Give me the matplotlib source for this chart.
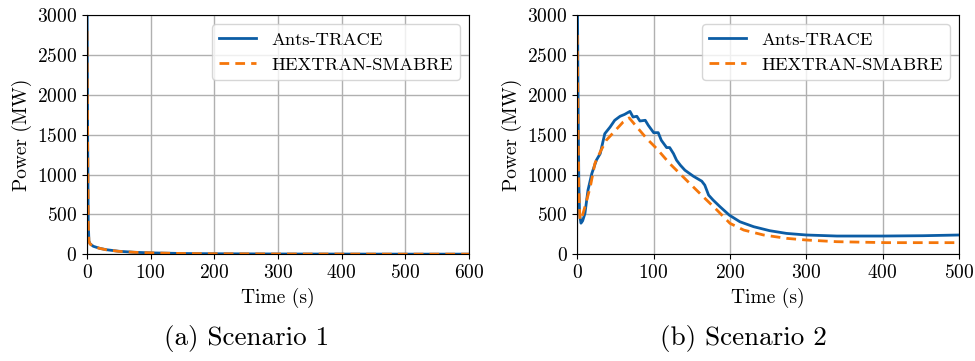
import matplotlib
matplotlib.use("Agg")
import matplotlib.pyplot as plt

plt.rcParams['font.family'] = ['cmr10', 'DejaVu Serif']
plt.rcParams['mathtext.fontset'] = 'cm'
plt.rcParams['axes.formatter.use_mathtext'] = True
plt.rcParams['axes.unicode_minus'] = False

# Scenario 1
t1 = [0, 1, 2, 3, 5, 10, 20, 30, 50, 75, 100, 150, 200, 300, 400, 500, 600]
ants1 = [3400, 1500, 400, 165, 130, 100, 75, 58, 38, 25, 18, 10, 7, 4, 3, 2, 2]
hex1 = [2800, 1400, 380, 160, 128, 98, 74, 57, 37, 25, 18, 10, 7, 4, 3, 2, 2]

# Scenario 2
t2a = [0, 1, 2, 3, 4.8, 7, 10, 14, 19, 25, 30, 36, 43, 49, 56, 62, 69, 73, 78, 82, 89, 93,
       100, 106, 110, 117, 121, 126, 130, 135, 141, 152, 163, 167, 172, 178, 187, 199, 213,
       231, 252, 274, 300, 340, 400, 453, 500]
ants2 = [3400, 2000, 900, 500, 390, 420, 512, 804, 1012, 1180, 1262, 1512, 1596, 1680, 1730,
         1754, 1792, 1721, 1730, 1671, 1680, 1617, 1525, 1525, 1430, 1338, 1338, 1262, 1180,
         1117, 1054, 979, 917, 867, 742, 679, 596, 492, 408, 346, 296, 262, 242, 229, 229,
         233, 242]
t2b = [0, 1, 2, 3.5, 6, 10, 17, 23, 30, 38, 52, 60, 68, 78, 91, 104, 121, 143, 165, 183,
       200, 218, 244, 274, 300, 340, 405, 500]
hex2 = [2750, 1600, 800, 430, 460, 596, 846, 1138, 1283, 1430, 1575, 1658, 1710, 1596, 1450,
        1325, 1138, 929, 721, 554, 388, 304, 242, 200, 179, 158, 146, 146]

blue = '#0C5DA5'
orange = '#F5760A'

fig = plt.figure(figsize=(9.75, 3.61), dpi=100)
ax1 = fig.add_axes([87/975, 1-254.3/361, (469-87)/975, (254.3-15)/361])
ax2 = fig.add_axes([577.3/975, 1-254.3/361, (959-577.3)/975, (254.3-15)/361])

for ax, ta, ya, tb, yb, xmax in [(ax1, t1, ants1, t1, hex1, 600),
                                  (ax2, t2a, ants2, t2b, hex2, 500)]:
    ax.plot(ta, ya, color=blue, lw=2, label='Ants-TRACE')
    ax.plot(tb, yb, color=orange, lw=2, ls=(0, (3.5, 2.2)), label='HEXTRAN-SMABRE')
    ax.set_xlim(0, xmax)
    ax.set_ylim(0, 3000)
    ax.set_xticks(range(0, xmax + 1, 100))
    ax.set_yticks(range(0, 3001, 500))
    ax.grid(True, color='#b0b0b0', lw=1)
    ax.set_axisbelow(True)
    ax.tick_params(labelsize=14)
    ax.set_xlabel('Time (s)', fontsize=14)
    ax.set_ylabel('Power (MW)', fontsize=14)
    ax.legend(loc='upper right', fontsize=13.3)

fig.text(247/975, 1-338/361, '(a) Scenario 1', ha='center', va='center', fontsize=19.5)
fig.text(743/975, 1-338/361, '(b) Scenario 2', ha='center', va='center', fontsize=19.5)

fig.savefig('out.png', dpi=100)
